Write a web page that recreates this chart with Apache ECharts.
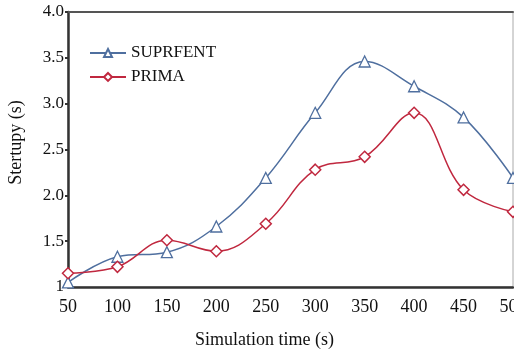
<script src="https://cdn.jsdelivr.net/npm/echarts@6/dist/echarts.min.js"></script>
<div id="main" style="width:514px;height:352px;margin:0;padding:0;"></div>
<style>body{margin:0;background:#fff;}</style>
<script>
    var simTime = [50, 100, 150, 200, 250, 300, 350, 400, 450, 500];
    var suprfent = [1.05, 1.33, 1.38, 1.66, 2.19, 2.90, 3.46, 3.19, 2.85, 2.19];
    var prima = [1.15, 1.22, 1.51, 1.39, 1.69, 2.28, 2.42, 2.90, 2.06, 1.82];

    var myChart = echarts.init(document.getElementById('main'));
    var font = '"Liberation Serif", "DejaVu Serif", serif';

    function pairs(ys) {
        return simTime.map(function (x, i) { return [x, ys[i]]; });
    }

    var option = {
        animation: false,
        backgroundColor: '#fff',
        textStyle: { fontFamily: font },
        grid: {
            left: 68, right: 1, top: 12, bottom: 65,
            outerBoundsMode: 'none',
            containLabel: false,
            show: true, borderColor: '#aaa', borderWidth: 1
        },
        legend: {
            orient: 'vertical',
            left: 89, top: 40,
            padding: 0,
            itemGap: -2,
            itemWidth: 36, itemHeight: 10,
            textStyle: { fontFamily: font, fontSize: 17, lineHeight: 17, color: '#111' },
            data: ['SUPRFENT', 'PRIMA']
        },
        xAxis: [{
            type: 'value',
            min: 50, max: 500, interval: 50,
            name: 'Simulation time (s)',
            nameLocation: 'middle',
            nameGap: 40,
            nameTextStyle: { fontFamily: font, fontSize: 18, color: '#111', padding: [0, 52, 0, 0] },
            axisLine: { lineStyle: { color: '#333', width: 2.5 } },
            axisTick: { show: false },
            axisLabel: { fontFamily: font, fontSize: 18, color: '#111', margin: 7 },
            splitLine: { show: false }
        }, {
            type: 'value', position: 'top',
            min: 50, max: 500, interval: 50,
            axisLine: { show: true, lineStyle: { color: '#555', width: 2 } },
            axisTick: { show: false },
            axisLabel: { show: false },
            splitLine: { show: false }
        }],
        yAxis: {
            type: 'value',
            min: 1, max: 4, interval: 0.5,
            name: 'Stertupy (s)',
            nameLocation: 'middle',
            nameGap: 38,
            nameTextStyle: { fontFamily: font, fontSize: 18, color: '#111', padding: [0, 0, 0, 14] },
            axisLine: { show: true, lineStyle: { color: '#333', width: 2.5 } },
            axisTick: { show: true, length: 3, lineStyle: { color: '#333', width: 2 } },
            axisLabel: {
                fontFamily: font, fontSize: 17, color: '#111', margin: 4,
                formatter: function (v) { return v === 1 ? '1' : v.toFixed(1); }
            },
            splitLine: { show: false }
        },
        series: [{
            name: 'SUPRFENT',
            type: 'line',
            smooth: 0.4,
            data: pairs(suprfent),
            symbol: 'triangle',
            symbolSize: 11,
            itemStyle: { color: '#fff', borderColor: '#4f6f9f', borderWidth: 1.3 },
            lineStyle: { color: '#4f6f9f', width: 1.5 }
        }, {
            name: 'PRIMA',
            type: 'line',
            smooth: 0.4,
            data: pairs(prima),
            symbol: 'diamond',
            symbolSize: 11,
            itemStyle: { color: '#fff', borderColor: '#c0283f', borderWidth: 1.5 },
            lineStyle: { color: '#c0283f', width: 1.5 }
        }]
    };

    myChart.setOption(option);
</script>
